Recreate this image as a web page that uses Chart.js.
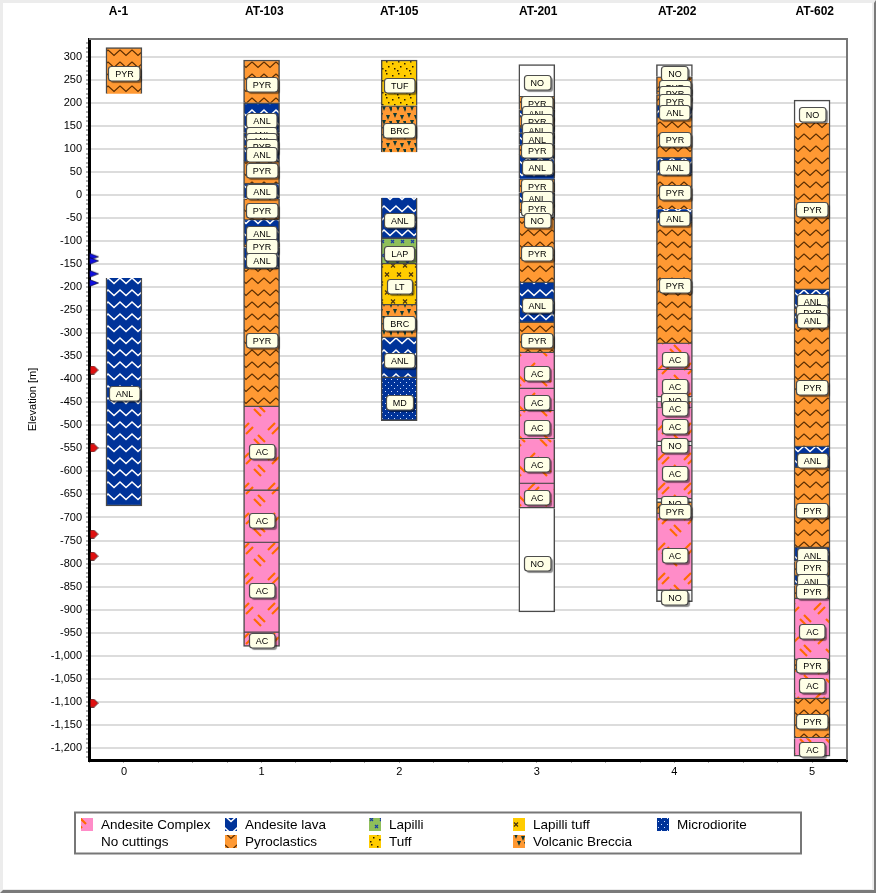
<!DOCTYPE html>
<html>
<head>
<meta charset="utf-8">
<title>Well lithology</title>
<script src="https://cdn.jsdelivr.net/npm/chart.js@4/dist/chart.umd.min.js"></script>
<style>
    html, body { margin: 0; padding: 0; background: #fff; }
    #wrap { position: relative; width: 876px; height: 894px; overflow: hidden; }
    #chart { position: absolute; left: 0; top: 0; }
    #frame {
        position: absolute; left: 0; top: 0; width: 876px; height: 893px; box-sizing: border-box;
        border-top: 3px solid #ececec; border-left: 3px solid #ececec;
        border-right: 2px solid #7a7a7a; border-bottom: 3px solid #7a7a7a;
        box-shadow: inset -2px -1px 0 #ececec;
        pointer-events: none;
    }
</style>
</head>
<body>
<div id="wrap">
    <canvas id="chart" width="876" height="894"></canvas>
    <div id="frame"></div>
</div>
<script>
// --- data (elevations in metres) ---
const wellNames = ['A-1', 'AT-103', 'AT-105', 'AT-201', 'AT-202', 'AT-602'];

const rockNames = ['Andesite Complex', 'Andesite lava', 'Lapilli', 'Lapilli tuff', 'Microdiorite',
    'No cuttings', 'Pyroclastics', 'Tuff', 'Volcanic Breccia'];
const rockCodes = ['AC', 'ANL', 'LAP', 'LT', 'MD', 'NO', 'PYR', 'TUF', 'BRC'];

const a1Rocks = ['PYR', 'ANL'];
const a1Tops = [320, -180];
const a1Bases = [220, -675];
const a1Tags = [265, -430];

const at103Rocks = ['PYR', 'ANL', 'ANL', 'ANL', 'PYR', 'ANL', 'PYR', 'ANL', 'PYR', 'ANL', 'PYR', 'ANL', 'PYR', 'AC', 'AC', 'AC', 'AC'];
const at103Tops = [293, 200, 135, 128, 108, 104, 74, 26, -8, -55, -108, -114, -160, -460, -642, -755, -950];
const at103Bases = [200, 135, 128, 108, 104, 74, 26, -8, -55, -108, -114, -160, -460, -642, -755, -950, -980];
const at103Tags = [240, 163, 131, 119, 106, 89, 54, 9, -33, -82, -111, -141, -315, -556, -705, -857, -966];

const at105Rocks = ['TUF', 'BRC', 'ANL', 'LAP', 'LT', 'BRC', 'ANL', 'MD'];
const at105Tops = [293, 194, -6, -95, -150, -239, -310, -397];
const at105Bases = [194, 93, -95, -150, -239, -310, -397, -490];
const at105Tags = [239, 140, -54, -126, -197, -278, -358, -449];

const at201Rocks = ['NO', 'PYR', 'ANL', 'PYR', 'ANL', 'ANL', 'PYR', 'ANL', 'PYR', 'ANL', 'PYR', 'NO', 'PYR', 'ANL', 'PYR', 'AC', 'AC', 'AC', 'AC', 'AC', 'NO'];
const at201Tops = [283, 215, 185, 171, 147, 135, 109, 87, 35, 5, -17, -39, -50, -191, -277, -343, -421, -469, -530, -627, -680];
const at201Bases = [215, 185, 171, 147, 135, 109, 87, 35, 5, -17, -39, -50, -191, -277, -343, -421, -469, -530, -627, -680, -905];
const at201Tags = [245, 200, 178, 159, 141, 122, 98, 61, 20, -6, -28, -54, -127, -239, -315, -387, -449, -504, -584, -657, -799];

const at202Rocks = ['NO', 'PYR', 'PYR', 'PYR', 'ANL', 'PYR', 'ANL', 'PYR', 'ANL', 'PYR', 'AC', 'AC', 'NO', 'AC', 'AC', 'NO', 'AC', 'NO', 'PYR', 'AC', 'NO'];
const at202Tops = [283, 257, 226, 218, 195, 169, 82, 45, -31, -60, -323, -380, -439, -450, -463, -536, -545, -660, -668, -692, -859];
const at202Bases = [257, 226, 218, 195, 169, 82, 45, -31, -60, -323, -380, -439, -450, -463, -536, -545, -660, -668, -692, -859, -883];
const at202Tags = [265, 234, 221, 203, 179, 122, 61, 5, -50, -195, -356, -415, -445, -462, -503, -543, -605, -669, -687, -781, -874];

const at602Rocks = ['NO', 'PYR', 'ANL', 'PYR', 'ANL', 'PYR', 'ANL', 'PYR', 'ANL', 'PYR', 'ANL', 'PYR', 'AC', 'PYR', 'AC', 'PYR', 'AC'];
const at602Tops = [206, 156, -206, -247, -258, -280, -547, -592, -766, -795, -827, -847, -877, -1009, -1031, -1094, -1179];
const at602Bases = [156, -206, -247, -258, -280, -547, -592, -766, -795, -827, -847, -877, -1009, -1031, -1094, -1179, -1218];
const at602Tags = [176, -30, -230, -254, -271, -417, -575, -685, -781, -809, -839, -861, -946, -1021, -1064, -1142, -1203];

// formation markers on the left edge
const blueMarks = [-134, -143, -171, -191];
const redMarks = [-380, -549, -736, -784, -1103];

const yTickStep = 10;
const yLabelStep = 50;

const wellRocks = [a1Rocks, at103Rocks, at105Rocks, at201Rocks, at202Rocks, at602Rocks];
const wellTops = [a1Tops, at103Tops, at105Tops, at201Tops, at202Tops, at602Tops];
const wellBases = [a1Bases, at103Bases, at105Bases, at201Bases, at202Bases, at602Bases];
const wellTags = [a1Tags, at103Tags, at105Tags, at201Tags, at202Tags, at602Tags];

const FONT = "'Liberation Sans', Arial, sans-serif";

// --- fill patterns ---
function makeTile(w, h, bg, draw) {
    const c = document.createElement('canvas');
    c.width = w;
    c.height = h;
    const g = c.getContext('2d');
    g.fillStyle = bg;
    g.fillRect(0, 0, w, h);
    draw(g);
    return c;
}

function zigzag(color, width) {
    return g => {
        g.strokeStyle = color;
        g.lineWidth = width;
        g.lineJoin = 'miter';
        g.beginPath();
        g.moveTo(-1, 1);
        g.lineTo(0, 2);
        g.lineTo(6, 7.5);
        g.lineTo(12, 2);
        g.lineTo(13, 1);
        g.stroke();
    };
}

function crosses(color, w, h, size) {
    return g => {
        g.strokeStyle = color;
        g.lineWidth = 1.2;
        [[w / 4, h / 4], [w * 3 / 4, h * 3 / 4]].forEach(([x, y]) => {
            g.beginPath();
            g.moveTo(x - size, y - size);
            g.lineTo(x + size, y + size);
            g.moveTo(x + size, y - size);
            g.lineTo(x - size, y + size);
            g.stroke();
        });
    };
}

function dots(color, spots, size) {
    return g => {
        g.fillStyle = color;
        spots.forEach(([x, y]) => g.fillRect(x, y, size, size));
    };
}

const ctx = document.getElementById('chart').getContext('2d');

function herringbone(g) {
    g.strokeStyle = '#ff6a00';
    g.lineWidth = 2.2;
    const dash = (x0, y0, x1, y1) => {
        g.beginPath();
        g.moveTo(x0, y0);
        g.lineTo(x1, y1);
        g.stroke();
    };
    // "//" pair in the middle of the tile, "\\" pair wrapping over the side
    dash(8, 10, 15, 3);
    dash(12, 14, 19, 7);
    [0, 26].forEach(ox => {
        dash(ox - 6, 19, ox + 1, 26);
        dash(ox - 2, 15, ox + 5, 22);
    });
}

function breccia(g) {
    g.fillStyle = '#0f3a35';
    [[1, 1], [8, 3], [4, 8], [11, 9]].forEach(([x, y]) => {
        g.beginPath();
        g.moveTo(x, y);
        g.lineTo(x + 4, y);
        g.lineTo(x + 2, y + 5);
        g.closePath();
        g.fill();
    });
}

const rockTiles = {
    AC: makeTile(26, 30, '#ff8cc8', herringbone),
    ANL: makeTile(12, 12, '#003399', zigzag('#ffffff', 1.6)),
    LAP: makeTile(10, 14, '#8fbf5a', crosses('#1a3fa0', 10, 14, 1.5)),
    LT: makeTile(12, 18, '#ffcc00', crosses('#4a3410', 12, 18, 2)),
    MD: makeTile(6, 6, '#003399', dots('#cfe0ff', [[1, 1], [4, 4]], 1)),
    NO: makeTile(4, 4, '#ffffff', () => {}),
    PYR: makeTile(12, 12, '#ff9933', zigzag('#5a2d00', 1.2)),
    TUF: makeTile(12, 12, '#ffcc00', dots('#2a1c00', [[2, 1], [8, 3], [4, 6], [10, 8], [1, 10]], 1.5)),
    BRC: makeTile(14, 14, '#ff9933', breccia)
};

const rockPatterns = {};
rockCodes.forEach(code => {
    rockPatterns[code] = ctx.createPattern(rockTiles[code], 'repeat');
});

// one dataset per rock type, floating bars in every well
const barSets = rockCodes.map((code, r) => {
    const data = [];
    wellRocks.forEach((rocks, w) => {
        rocks.forEach((rock, i) => {
            if (rock === code) data.push({ x: w, y: [wellTops[w][i], wellBases[w][i]] });
        });
    });
    return {
        type: 'bar',
        label: rockNames[r],
        data,
        backgroundColor: rockPatterns[code],
        borderColor: '#4a4a4a',
        borderWidth: 1.5,
        barThickness: 36,
        grouped: false,
        order: 2
    };
});

function markerImage(color, w, h, pentagon) {
    const c = document.createElement('canvas');
    c.width = w;
    c.height = h;
    const g = c.getContext('2d');
    g.fillStyle = color;
    g.strokeStyle = 'rgba(0,0,0,0.55)';
    g.beginPath();
    g.moveTo(0.5, 0.5);
    if (pentagon) g.lineTo(w * 0.5, 0.5);
    g.lineTo(w - 0.5, h / 2);
    if (pentagon) g.lineTo(w * 0.5, h - 0.5);
    g.lineTo(0.5, h - 0.5);
    g.closePath();
    g.fill();
    g.stroke();
    return c;
}

const markerX = -0.217;

const markSets = [
    { marks: blueMarks, image: markerImage('#1010e0', 10, 8, false), x: markerX },
    { marks: redMarks, image: markerImage('#e01010', 9, 9, true), x: markerX }
].map(m => ({
    type: 'scatter',
    data: m.marks.map(v => ({ x: m.x, y: v })),
    pointStyle: m.image,
    order: 1
}));

// --- labels on each interval, well names, frame and legend ---
function drawTag(g, text, cx, cy) {
    g.font = `9px ${FONT}`;
    const w = Math.max(25, g.measureText(text).width + 13);
    const h = 14.5;
    const x = Math.round(cx - w / 2) + 0.5;
    const y = Math.round(cy - h / 2) + 0.5;
    g.save();
    g.shadowColor = 'rgba(0,0,0,0.45)';
    g.shadowOffsetX = 2;
    g.shadowOffsetY = 2;
    g.shadowBlur = 1;
    g.beginPath();
    g.roundRect(x, y, w, h, 3);
    g.fillStyle = '#ffffe6';
    g.fill();
    g.restore();
    g.strokeStyle = '#4d4d4d';
    g.lineWidth = 1.2;
    g.beginPath();
    g.roundRect(x, y, w, h, 3);
    g.stroke();
    g.fillStyle = '#000';
    g.textAlign = 'center';
    g.textBaseline = 'middle';
    g.fillText(text, cx + 0.5, y + h / 2 + 0.5);
}

const wellNameX = [-0.04, 1.02, 2, 3.01, 4.02, 5.02];

const overlayPlugin = {
    id: 'overlay',
    afterDatasetsDraw(chart) {
        const g = chart.ctx;
        const xs = chart.scales.x;
        const ys = chart.scales.y;
        const area = chart.chartArea;

        // plot frame, top and right only: the axes draw the others
        g.save();
        g.strokeStyle = '#777';
        g.lineWidth = 2;
        g.beginPath();
        g.moveTo(area.left, area.top);
        g.lineTo(area.right, area.top);
        g.lineTo(area.right, area.bottom);
        g.stroke();

        wellTags.forEach((tags, w) => {
            tags.forEach((v, i) => {
                drawTag(g, wellRocks[w][i], xs.getPixelForValue(w), ys.getPixelForValue(v));
            });
        });

        g.font = `bold 12px ${FONT}`;
        g.fillStyle = '#000';
        g.textAlign = 'center';
        g.textBaseline = 'middle';
        wellNames.forEach((name, w) => g.fillText(name, xs.getPixelForValue(wellNameX[w]), 12));

        // legend, filled column by column of 5
        g.strokeStyle = '#777';
        g.lineWidth = 2;
        g.strokeRect(75, 812.5, 726, 41);
        g.font = `13.5px ${FONT}`;
        g.textAlign = 'left';
        rockNames.forEach((name, i) => {
            const col = i % 5;
            const row = Math.floor(i / 5);
            const x = 81 + col * 144;
            const y = 818 + row * 17;
            g.save();
            g.translate(x, y - 16);
            g.fillStyle = rockPatterns[rockCodes[i]];
            g.fillRect(0, 16, 12, 13);
            g.restore();
            g.fillStyle = '#000';
            g.fillText(name, x + 20, y + 7);
        });
        g.restore();
    }
};

new Chart(ctx, {
    data: { datasets: [...barSets, ...markSets] },
    plugins: [overlayPlugin],
    options: {
        responsive: false,
        devicePixelRatio: 1,
        animation: false,
        layout: { padding: { top: 39, right: 29, bottom: 0, left: 0 } },
        plugins: {
            legend: { display: false },
            tooltip: { enabled: false }
        },
        scales: {
            x: {
                type: 'linear',
                offset: false,
                min: -0.254,
                max: 5.254,
                afterFit: s => { s.height = 134; },
                border: { color: '#000', width: 3 },
                grid: { drawOnChartArea: false, offset: false, tickLength: 3, tickColor: '#aaa' },
                ticks: {
                    stepSize: 0.25,
                    includeBounds: false,
                    autoSkip: false,
                    maxRotation: 0,
                    padding: 2,
                    color: '#000',
                    font: { family: FONT, size: 11 },
                    callback: v => Number.isInteger(v) ? String(v) : ''
                }
            },
            y: {
                min: -1226.4,
                max: 338.6,
                beginAtZero: false,
                afterFit: s => { s.width = 89; },
                title: {
                    display: true,
                    text: 'Elevation [m]',
                    color: '#000',
                    font: { family: FONT, size: 11 },
                    padding: { top: 26, bottom: 0 }
                },
                border: { color: '#000', width: 3 },
                grid: {
                    lineWidth: 2,
                    tickLength: 3,
                    tickWidth: 2,
                    tickColor: '#b0b0b0',
                    color: c => (c.tick && Math.round(c.tick.value) % yLabelStep === 0) ? '#dcdcdc' : 'transparent'
                },
                ticks: {
                    stepSize: yTickStep,
                    includeBounds: false,
                    autoSkip: false,
                    padding: 4,
                    color: '#000',
                    font: { family: FONT, size: 11 },
                    callback: v => Math.round(v) % yLabelStep === 0 ? Math.round(v).toLocaleString('en-US') : ''
                }
            }
        }
    }
});
</script>
</body>
</html>
